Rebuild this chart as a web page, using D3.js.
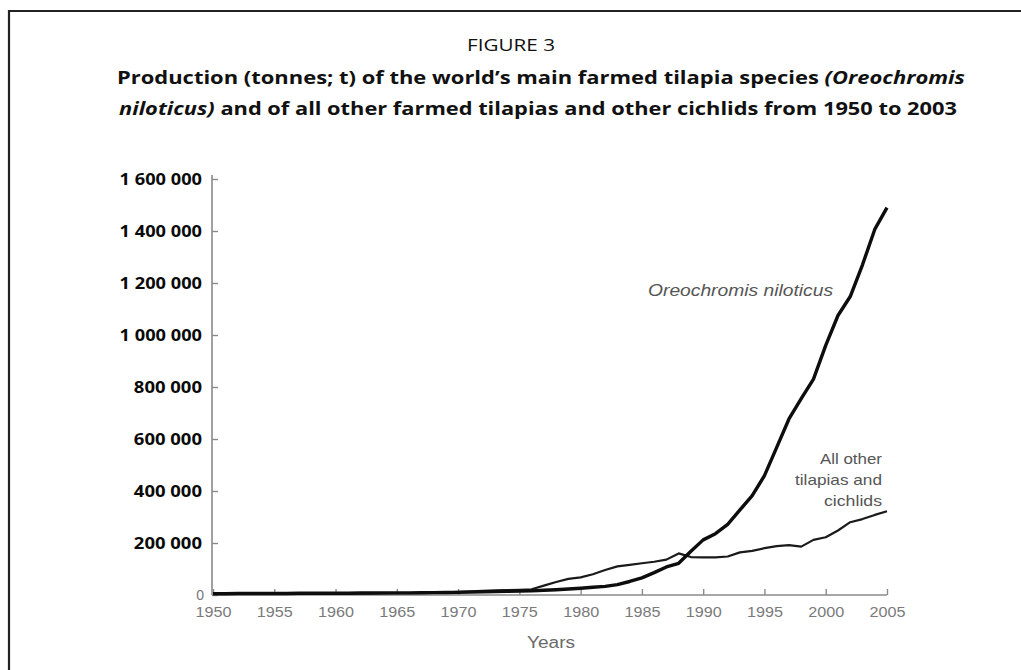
<!DOCTYPE html>
<html>
<head>
<meta charset="utf-8">
<script src="https://cdn.jsdelivr.net/npm/d3@7"></script>
<style>
  html, body { margin: 0; padding: 0; background: #fff; }
  svg { display: block; }
</style>
</head>
<body>
<svg id="chart" width="1021" height="670"></svg>
<script>
// ---------- DATA ----------
const years = d3.range(1950, 2006);
const niloticus = [
  5000, 5000, 5500, 5500, 6000, 6000, 6000, 6500, 6500, 7000,
  7000, 7000, 7500, 7500, 8000, 8000, 8000, 8500, 9000, 9500,
  10000, 11000, 12000, 13000, 14000, 15000, 16000, 18000, 20000, 23000,
  26000, 30000, 33000, 40000, 52000, 66000, 86000, 108000, 122000, 168000,
  212000, 236000, 272000, 327000, 382000, 459000, 568000, 677000, 755000, 830000,
  960000, 1075000, 1148000, 1270000, 1406000, 1490000
];
const otherTilapias = [
  4000, 4000, 4000, 4500, 4500, 4500, 4500, 5000, 5000, 5000,
  5000, 5500, 5500, 6000, 6500, 7000, 7500, 8000, 9000, 10000,
  12000, 14000, 16000, 18000, 19000, 20000, 22000, 36000, 50000, 62000,
  68000, 80000, 96000, 110000, 116000, 122000, 128000, 136000, 160000, 146000,
  145000, 145000, 148000, 164000, 170000, 180000, 188000, 192000, 186000, 212000,
  222000, 248000, 280000, 292000, 308000, 322000
];
const xTicks = [1950, 1955, 1960, 1965, 1970, 1975, 1980, 1985, 1990, 1995, 2000, 2005];
const yTicks = [0, 200000, 400000, 600000, 800000, 1000000, 1200000, 1400000, 1600000];
const yTickLabels = ["0", "200 000", "400 000", "600 000", "800 000", "1 000 000", "1 200 000", "1 400 000", "1 600 000"];

// ---------- LAYOUT ----------
const svg = d3.select("#chart");
const x = d3.scaleLinear().domain([1950, 2005]).range([213, 887]);
const y = d3.scaleLinear().domain([0, 1600000]).range([595, 179]);

function fitWidth(sel, target) {
  const w = sel.node().getComputedTextLength();
  if (Math.abs(w - target) > 1) sel.attr("textLength", target).attr("lengthAdjust", "spacingAndGlyphs");
}

// frame
svg.append("line").attr("x1", 9).attr("x2", 1021).attr("y1", 11).attr("y2", 11)
  .attr("stroke", "#222").attr("stroke-width", 2);
svg.append("line").attr("x1", 9).attr("x2", 9).attr("y1", 10).attr("y2", 670)
  .attr("stroke", "#222").attr("stroke-width", 2.2);

// titles
const f3 = svg.append("text").attr("x", 511).attr("y", 51).attr("text-anchor", "middle")
  .attr("font-family", "Open Sans").attr("font-size", 17).attr("fill", "#111")
  .text("FIGURE 3");
fitWidth(f3, 88);

const t1 = svg.append("text").attr("x", 541).attr("y", 84).attr("text-anchor", "middle")
  .attr("font-family", "Open Sans").attr("font-weight", "bold").attr("font-size", 18.5).attr("fill", "#111");
t1.append("tspan").text("Production (tonnes; t) of the world\u2019s main farmed tilapia species ");
t1.append("tspan").attr("font-style", "italic").text("(Oreochromis");
const t2 = svg.append("text").attr("x", 538).attr("y", 115).attr("text-anchor", "middle")
  .attr("font-family", "Open Sans").attr("font-weight", "bold").attr("font-size", 18.5).attr("fill", "#111");
t2.append("tspan").attr("font-style", "italic").text("niloticus)");
t2.append("tspan").text(" and of all other farmed tilapias and other cichlids from 1950 to 2003");
fitWidth(t1, 848);
fitWidth(t2, 838);

// y axis
const yAxis = d3.axisLeft(y).tickValues(yTicks)
  .tickFormat((d, i) => yTickLabels[i]).tickSizeInner(-6).tickSizeOuter(0).tickPadding(10);
const gy = svg.append("g").attr("transform", "translate(212,0)").call(yAxis);
gy.select(".domain").attr("stroke", "#8a8a8a").attr("stroke-width", 1.6)
  .attr("d", "M0," + (y(1600000) - 4) + "V" + y(0));
gy.selectAll(".tick line").attr("stroke", "#8a8a8a").attr("stroke-width", 1.4);
gy.selectAll(".tick text")
  .attr("font-family", "Open Sans").attr("font-weight", "bold").attr("font-size", 16.5)
  .attr("fill", "#0a0a0a")
  .each(function (d, i) {
    if (d === 0) return;
    const s = yTickLabels[i];
    const digits = s.replace(/ /g, "").length;
    const spaces = s.length - digits;
    fitWidth(d3.select(this), 10.8 * digits + 3.4 * spaces);
  });
gy.selectAll(".tick text").filter(d => d === 0)
  .attr("font-weight", "normal").attr("font-family", "Liberation Sans").attr("font-size", 14)
  .attr("fill", "#777").attr("x", -8);

// x axis
const xAxis = d3.axisBottom(x).tickValues(xTicks).tickFormat(d3.format("d"))
  .tickSizeInner(-6).tickSizeOuter(0).tickPadding(11);
const gx = svg.append("g").attr("transform", "translate(0,595)").call(xAxis);
gx.select(".domain").attr("stroke", "#8a8a8a").attr("stroke-width", 1.6)
  .attr("d", "M" + (x(1950) - 1) + ",0H" + x(2005));
gx.selectAll(".tick line").attr("stroke", "#8a8a8a").attr("stroke-width", 1.4);
gx.selectAll(".tick text")
  .attr("font-family", "Liberation Sans").attr("font-size", 15).attr("fill", "#7a7a7a")
  .each(function () { fitWidth(d3.select(this), 36); });

const yl = svg.append("text").attr("x", 551).attr("y", 648).attr("text-anchor", "middle")
  .attr("font-family", "Liberation Sans").attr("font-size", 16).attr("fill", "#6a6a6a")
  .text("Years");
fitWidth(yl, 48);

// lines
const lineGen = vals => d3.line().x((d, i) => x(years[i])).y(d => y(d))(vals);
svg.append("path").attr("d", lineGen(otherTilapias)).attr("fill", "none")
  .attr("stroke", "#1a1a1a").attr("stroke-width", 2.2).attr("stroke-linejoin", "round");
svg.append("path").attr("d", lineGen(niloticus)).attr("fill", "none")
  .attr("stroke", "#0d0d0d").attr("stroke-width", 3.4).attr("stroke-linejoin", "round");

// annotations
const on = svg.append("text").attr("x", 648).attr("y", 296)
  .attr("font-family", "Liberation Sans").attr("font-style", "italic").attr("font-size", 16)
  .attr("fill", "#555").text("Oreochromis niloticus");
fitWidth(on, 185);

const ann = ["All other", "tilapias and", "cichlids"];
const annW = [62, 87, 58];
svg.append("g").selectAll("text").data(ann).join("text")
  .attr("x", 882).attr("y", (d, i) => 464 + i * 21).attr("text-anchor", "end")
  .attr("font-family", "Liberation Sans").attr("font-size", 15).attr("fill", "#555")
  .text(d => d)
  .each(function (d, i) { fitWidth(d3.select(this), annW[i]); });
</script>
</body>
</html>
